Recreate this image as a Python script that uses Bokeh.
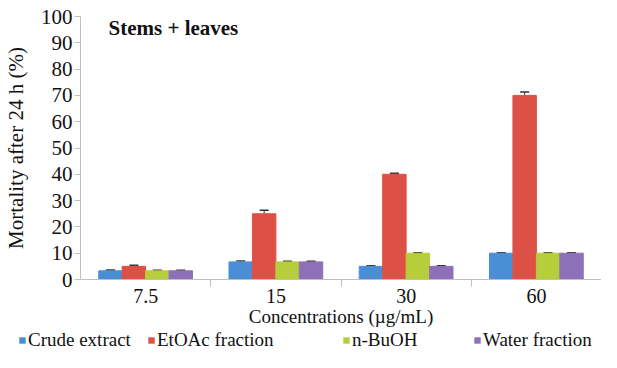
from bokeh.plotting import figure
from bokeh.layouts import column
from bokeh.models import (ColumnDataSource, Range1d, FixedTicker, Legend, LegendItem,
                          Whisker, TeeHead, Label)
from bokeh.embed import file_html
from bokeh.resources import INLINE

categories = ["7.5", "15", "30", "60"]
series_names = ["Crude extract", "EtOAc fraction", "n-BuOH", "Water fraction"]
crude = [3.3, 6.7, 5.0, 10.0]
etoac = [5.0, 25.0, 40.0, 70.0]
buoh = [3.3, 6.7, 10.0, 10.0]
water = [3.3, 6.7, 5.0, 10.0]
crude_err = [0.3, 0.3, 0.2, 0.2]
etoac_err = [0.4, 1.3, 0.4, 1.3]
buoh_err = [0.2, 0.2, 0.2, 0.2]
water_err = [0.2, 0.2, 0.2, 0.2]
colors = ["#4a8fd6", "#dc5046", "#b6cd3c", "#8d70b8"]

FONT = "Liberation Serif"
TXT = "#111111"

p = figure(width=601, height=329, output_backend="svg", toolbar_location=None,
           x_range=Range1d(0, len(categories)), y_range=Range1d(0, 100),
           min_border_left=80, min_border_right=0, min_border_top=16, min_border_bottom=44)
p.outline_line_color = None
p.xgrid.grid_line_color = None
p.ygrid.grid_line_color = None

bw = 0.18
offsets = [-1.5 * bw, -0.5 * bw, 0.5 * bw, 1.5 * bw]
all_vals = [crude, etoac, buoh, water]
all_errs = [crude_err, etoac_err, buoh_err, water_err]
for vals, errs, off, col in zip(all_vals, all_errs, offsets, colors):
    xs = [i + 0.5 + off for i in range(len(categories))]
    src = ColumnDataSource(dict(x=xs, top=vals,
                                upper=[v + e for v, e in zip(vals, errs)],
                                lower=[v - e for v, e in zip(vals, errs)]))
    p.vbar(x="x", top="top", width=bw, bottom=0, source=src,
           fill_color=col, line_color=col)
    w = Whisker(base="x", upper="upper", lower="lower", source=src,
                line_color="#333333", line_width=1,
                upper_head=TeeHead(size=9, line_color="#333333", line_width=1.5),
                lower_head=TeeHead(size=9, line_color="#333333", line_width=1.5))
    p.add_layout(w)

# x axis: labels at category centres, tick marks between categories
p.xaxis.ticker = FixedTicker(ticks=[i + 0.5 for i in range(len(categories))],
                             minor_ticks=list(range(1, len(categories))))
p.xaxis.major_label_overrides = {i + 0.5: c for i, c in enumerate(categories)}
p.xaxis.major_tick_out = 0
p.xaxis.major_tick_in = 0
p.xaxis.minor_tick_out = 7
p.xaxis.minor_tick_in = 0
p.xaxis.minor_tick_line_color = "#bfbfbf"
p.xaxis.axis_line_color = "#bfbfbf"
p.xaxis.major_label_text_font = FONT
p.xaxis.major_label_text_font_size = "20px"
p.xaxis.major_label_text_color = TXT
p.xaxis.major_label_standoff = 2
p.xaxis.axis_label = "Concentrations (\u00b5g/mL)"
p.xaxis.axis_label_text_font = FONT
p.xaxis.axis_label_text_font_style = "normal"
p.xaxis.axis_label_text_font_size = "19px"
p.xaxis.axis_label_text_color = TXT
p.xaxis.axis_label_standoff = 0

# y axis
p.yaxis.ticker = FixedTicker(ticks=list(range(0, 101, 10)))
p.yaxis.major_tick_out = 6
p.yaxis.major_tick_in = 0
p.yaxis.minor_tick_line_color = None
p.yaxis.major_tick_line_color = "#bfbfbf"
p.yaxis.axis_line_color = "#bfbfbf"
p.yaxis.major_label_text_font = FONT
p.yaxis.major_label_text_font_size = "21px"
p.yaxis.major_label_text_color = TXT
p.yaxis.major_label_standoff = 2
p.yaxis.axis_label = "Mortality after 24 h (%)"
p.yaxis.axis_label_text_font = FONT
p.yaxis.axis_label_text_font_style = "normal"
p.yaxis.axis_label_text_font_size = "21px"
p.yaxis.axis_label_text_color = TXT
p.yaxis.axis_label_standoff = 10

title = Label(x=28, y=95.5, x_units="screen", y_units="data", text="Stems + leaves",
              text_font=FONT, text_font_style="bold", text_font_size="21px",
              text_color=TXT, text_baseline="middle")
p.add_layout(title)

# legend strip below the chart
p2 = figure(width=601, height=23, output_backend="svg", toolbar_location=None,
            x_axis_location=None, y_axis_location=None, frame_align=False,
            min_border_left=0, min_border_right=0, min_border_top=0, min_border_bottom=0)
p2.outline_line_color = None
p2.xgrid.grid_line_color = None
p2.ygrid.grid_line_color = None
legend_x = [18, 147, 342, 473]
for name, col, lx in zip(series_names, colors, legend_x):
    # zero-size proxy glyph carrying the series colour for the legend swatch
    r = p2.vbar(x=[0], top=[0], bottom=[0], width=0, fill_color=col, line_color=None)
    lg = Legend(items=[LegendItem(label=name, renderers=[r])], location=(lx, 1),
                label_text_font=FONT, label_text_font_size="19px",
                label_text_color=TXT, glyph_width=8, glyph_height=8,
                label_height=20, label_standoff=2, padding=0, margin=0,
                border_line_color=None, background_fill_alpha=0)
    p2.add_layout(lg)

layout = column(p, p2, spacing=0)
open("out.html", "w").write(file_html(layout, INLINE))
